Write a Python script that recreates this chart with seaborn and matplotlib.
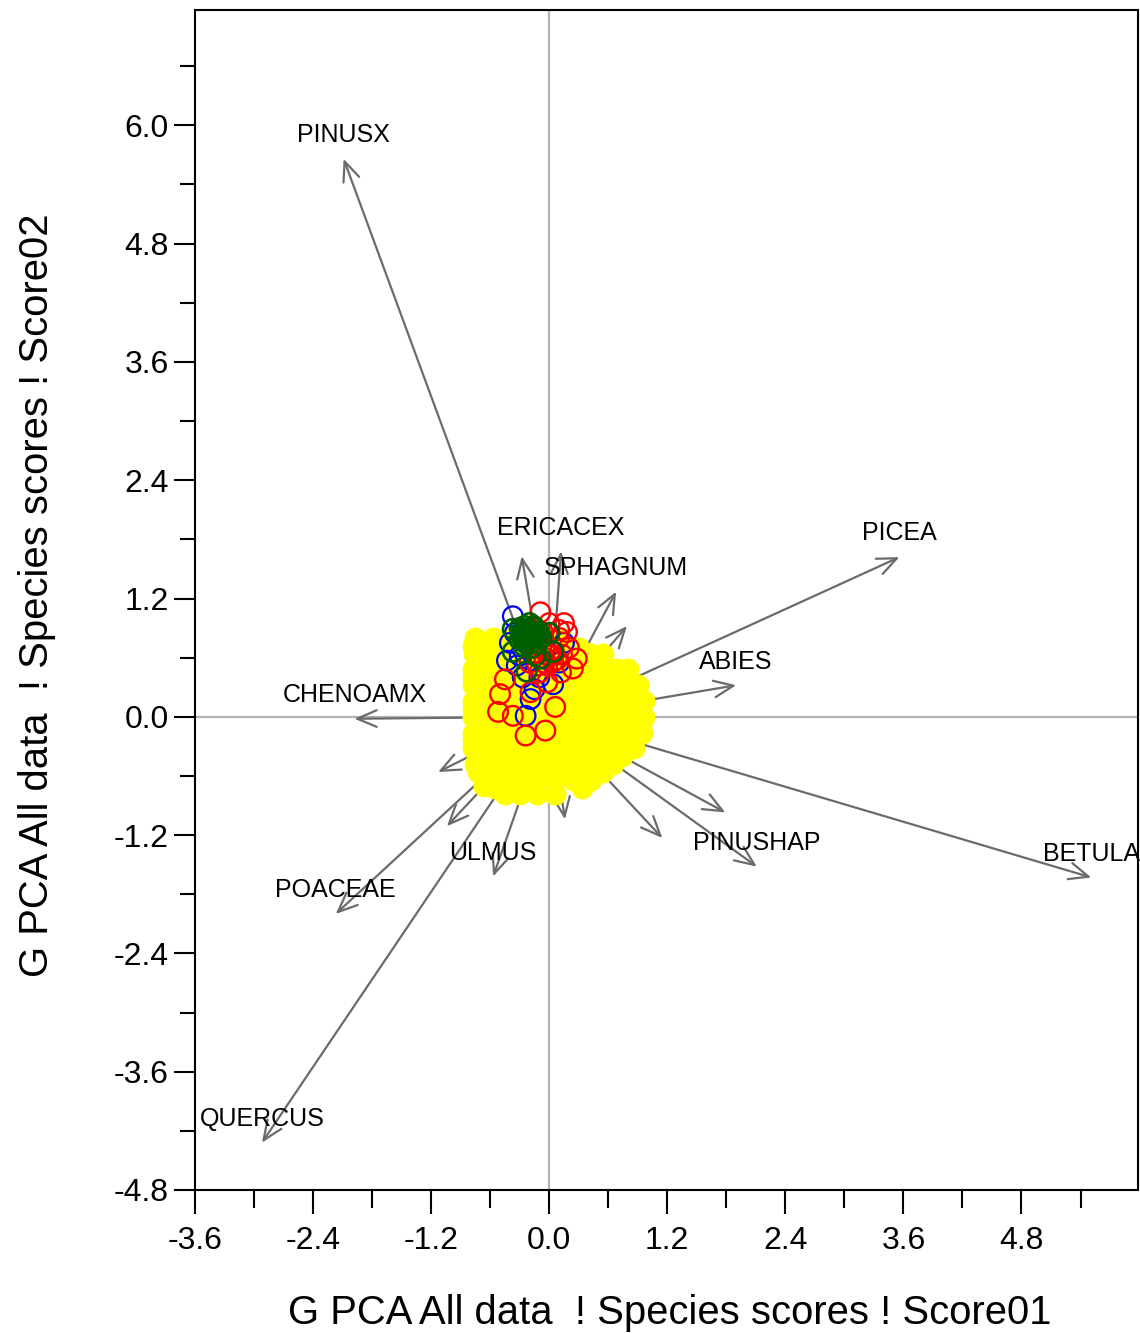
import numpy as np
import pandas as pd
import matplotlib
matplotlib.use("Agg")
import matplotlib.pyplot as plt
from matplotlib.ticker import FixedLocator, FormatStrFormatter
import seaborn as sns

# ---------------- data ----------------
species = ["PINUSX", "", "ERICACEX", "SPHAGNUM", "", "PICEA", "ABIES", "CHENOAMX",
           "", "", "PINUSHAP", "BETULA", "ULMUS", "", "", "", "POACEAE", "QUERCUS"]
arrow_x = [-2.09, -0.28, 0.12, 0.68, 0.79, 3.56, 1.90, -1.98,
           1.79, 1.15, 2.11, 5.51, -0.57, 0.16, -1.13, -1.04, -2.17, -2.92]
arrow_y = [5.66, 1.63, 1.68, 1.27, 0.92, 1.62, 0.32, -0.02,
           -0.97, -1.23, -1.52, -1.63, -1.62, -1.04, -0.56, -1.11, -2.00, -4.32]

yellow_x = [-0.75, -0.57, -0.39, -0.21, -0.03, 0.12,
            -0.76, -0.66, -0.48, -0.30, -0.12, 0.06, 0.24, 0.42, 0.55,
            -0.77, -0.57, -0.39, -0.21, -0.03, 0.15, 0.33, 0.51, 0.69, 0.80,
            -0.77, -0.66, -0.48, -0.30, -0.12, 0.06, 0.24, 0.42, 0.60, 0.78, 0.90,
            -0.77, -0.57, -0.39, -0.21, -0.03, 0.15, 0.33, 0.51, 0.69, 0.87, 0.96,
            -0.77, -0.66, -0.48, -0.30, -0.12, 0.06, 0.24, 0.42, 0.60, 0.78, 0.96,
            -0.77, -0.57, -0.39, -0.21, -0.03, 0.15, 0.33, 0.51, 0.69, 0.87, 0.94,
            -0.77, -0.66, -0.48, -0.30, -0.12, 0.06, 0.24, 0.42, 0.60, 0.78, 0.86,
            -0.75, -0.57, -0.39, -0.21, -0.03, 0.15, 0.33, 0.51, 0.65,
            -0.66, -0.48, -0.30, -0.12, 0.06, 0.24, 0.42,
            -0.45, -0.30, -0.12, 0.06,
            -0.77, -0.77, -0.77, -0.77, -0.72, -0.66, 0.30, 0.50, 0.70, 0.88, 0.93, 0.74, 0.55, 0.33, -0.55]
yellow_y = [0.80, 0.80, 0.80, 0.80, 0.80, 0.80,
            0.64, 0.64, 0.64, 0.64, 0.64, 0.64, 0.64, 0.64, 0.64,
            0.48, 0.48, 0.48, 0.48, 0.48, 0.48, 0.48, 0.48, 0.48, 0.48,
            0.32, 0.32, 0.32, 0.32, 0.32, 0.32, 0.32, 0.32, 0.32, 0.32, 0.32,
            0.16, 0.16, 0.16, 0.16, 0.16, 0.16, 0.16, 0.16, 0.16, 0.16, 0.16,
            0.00, 0.00, 0.00, 0.00, 0.00, 0.00, 0.00, 0.00, 0.00, 0.00, 0.00,
            -0.16, -0.16, -0.16, -0.16, -0.16, -0.16, -0.16, -0.16, -0.16, -0.16, -0.16,
            -0.32, -0.32, -0.32, -0.32, -0.32, -0.32, -0.32, -0.32, -0.32, -0.32, -0.32,
            -0.48, -0.48, -0.48, -0.48, -0.48, -0.48, -0.48, -0.48, -0.48,
            -0.64, -0.64, -0.64, -0.64, -0.64, -0.64, -0.64,
            -0.78, -0.78, -0.78, -0.78,
            0.72, 0.40, 0.08, -0.24, -0.56, -0.70, 0.70, 0.57, 0.40, 0.24, -0.08, -0.40, -0.56, -0.72, -0.72]

blue_x = [-0.37, -0.43, -0.33, -0.27, -0.19, -0.24, 0.04, -0.40, -0.30, -0.10, 0.10, -0.15, 0.15, -0.35]
blue_y = [1.02, 0.57, 0.52, 0.40, 0.18, 0.01, 0.33, 0.75, 0.62, 0.40, 0.55, 0.28, 0.75, 0.85]

red_x = [-0.09, 0.18, 0.28, 0.24, -0.45, -0.50, -0.52, -0.37, 0.06, -0.24, -0.04, -0.19,
         0.00, 0.10, 0.05, -0.05, 0.12, -0.10, 0.20, -0.15, 0.15, -0.02, 0.08, -0.08,
         -0.05, 0.00, 0.04, -0.02, 0.02, -0.12, 0.13, -0.20, 0.10, -0.06]
red_y = [1.06, 0.86, 0.59, 0.49, 0.38, 0.23, 0.05, 0.01, 0.10, -0.19, -0.14, 0.25,
         0.95, 0.80, 0.65, 0.55, 0.45, 0.45, 0.70, 0.65, 0.95, 0.35, 0.58, 0.72,
         0.60, 0.62, 0.56, 0.52, 0.68, 0.52, 0.63, 0.55, 0.88, 0.85]

green_x = [-0.30, -0.25, -0.20, -0.15, -0.10, -0.28, -0.22, -0.16, -0.12, -0.26, -0.18,
           -0.08, -0.20, -0.30, -0.37, -0.23, 0.04, -0.09, -0.37, 0.00, -0.14, -0.24,
           -0.27, -0.23, -0.19, -0.14, -0.21, -0.17, -0.25, -0.12, -0.19, -0.23, -0.16, -0.29]
green_y = [0.90, 0.92, 0.88, 0.90, 0.85, 0.82, 0.80, 0.78, 0.75, 0.72, 0.70,
           0.80, 0.95, 0.78, 0.66, 0.46, 0.66, 0.59, 0.89, 0.85, 0.62, 0.86,
           0.86, 0.84, 0.83, 0.84, 0.88, 0.86, 0.78, 0.82, 0.76, 0.74, 0.92, 0.85]

x_ticks = [-3.6, -2.4, -1.2, 0.0, 1.2, 2.4, 3.6, 4.8]
y_ticks = [-4.8, -3.6, -2.4, -1.2, 0.0, 1.2, 2.4, 3.6, 4.8, 6.0]
x_minor = [-3.0, -1.8, -0.6, 0.6, 1.8, 3.0, 4.2, 5.4]
y_minor = [-4.2, -3.0, -1.8, -0.6, 0.6, 1.8, 3.0, 4.2, 5.4, 6.6]
x_title = "G PCA All data  ! Species scores ! Score01"
y_title = "G PCA All data  ! Species scores ! Score02"

# ---------------- style ----------------
sns.set_style("white")
plt.rcParams["font.family"] = ["Liberation Sans", "DejaVu Sans"]
plt.rcParams["axes.unicode_minus"] = False
plt.rcParams["text.color"] = "black"
plt.rcParams["axes.labelcolor"] = "black"
plt.rcParams["xtick.color"] = "black"
plt.rcParams["ytick.color"] = "black"

fig = plt.figure(figsize=(11.4, 13.33), dpi=100)
ax = fig.add_axes([0.1711, 0.1073, 0.8272, 0.8852])

ax.axhline(0, color="#b4b4b4", lw=1.6, zorder=0)
ax.axvline(0, color="#b4b4b4", lw=1.6, zorder=0)

arrow_color = "#6b6b6b"
for name, tx, ty in zip(species, arrow_x, arrow_y):
    ax.annotate("", xy=(tx, ty), xytext=(0, 0), xycoords="data", textcoords="data",
                arrowprops=dict(arrowstyle="->,head_length=0.7,head_width=0.3",
                                color=arrow_color, lw=1.6, shrinkA=0, shrinkB=0,
                                mutation_scale=20),
                zorder=1)

groups = [(yellow_x, yellow_y, "#ffff00", True, 1.6),
          (blue_x, blue_y, "#0000ff", False, 1.6),
          (red_x, red_y, "#ff0000", False, 1.7),
          (green_x, green_y, "#006000", False, 1.9)]
for gx, gy, col, filled, lw in groups:
    df = pd.DataFrame({"x": gx, "y": gy})
    sns.scatterplot(data=df, x="x", y="y", ax=ax, s=200, marker="o",
                    color=col, legend=False, zorder=3)
    coll = ax.collections[-1]
    coll.set_facecolor(col if filled else "none")
    coll.set_edgecolor(col)
    coll.set_linewidth(lw)

for name, tx, ty in zip(species, arrow_x, arrow_y):
    if name:
        ax.annotate(name, xy=(tx, ty), xytext=(0, 17), textcoords="offset points",
                    ha="center", va="center", fontsize=18, color="black", zorder=5)

ax.set_xlim(-3.6, 5.985)
ax.set_ylim(-4.8, 7.17)

ax.xaxis.set_major_locator(FixedLocator(x_ticks))
ax.yaxis.set_major_locator(FixedLocator(y_ticks))
ax.xaxis.set_minor_locator(FixedLocator(x_minor))
ax.yaxis.set_minor_locator(FixedLocator(y_minor))
ax.xaxis.set_major_formatter(FormatStrFormatter("%.1f"))
ax.yaxis.set_major_formatter(FormatStrFormatter("%.1f"))

ax.tick_params(axis="x", which="major", direction="out", length=17, width=1.5,
               labelsize=23, pad=9, bottom=True)
ax.tick_params(axis="x", which="minor", direction="out", length=13, width=1.5, bottom=True)
ax.tick_params(axis="y", which="major", direction="out", length=15, width=1.5,
               labelsize=23, pad=4, left=True)
ax.tick_params(axis="y", which="minor", direction="out", length=11, width=1.5, left=True)

for sp in ax.spines.values():
    sp.set_color("black")
    sp.set_linewidth(1.5)

ax.set_xlabel(x_title, fontsize=28.8)
ax.set_ylabel(y_title, fontsize=28.8)
ax.xaxis.set_label_coords(0.503, -0.088)
ax.yaxis.set_label_coords(-0.147, 0.504)

fig.savefig("out.png", dpi=100)
